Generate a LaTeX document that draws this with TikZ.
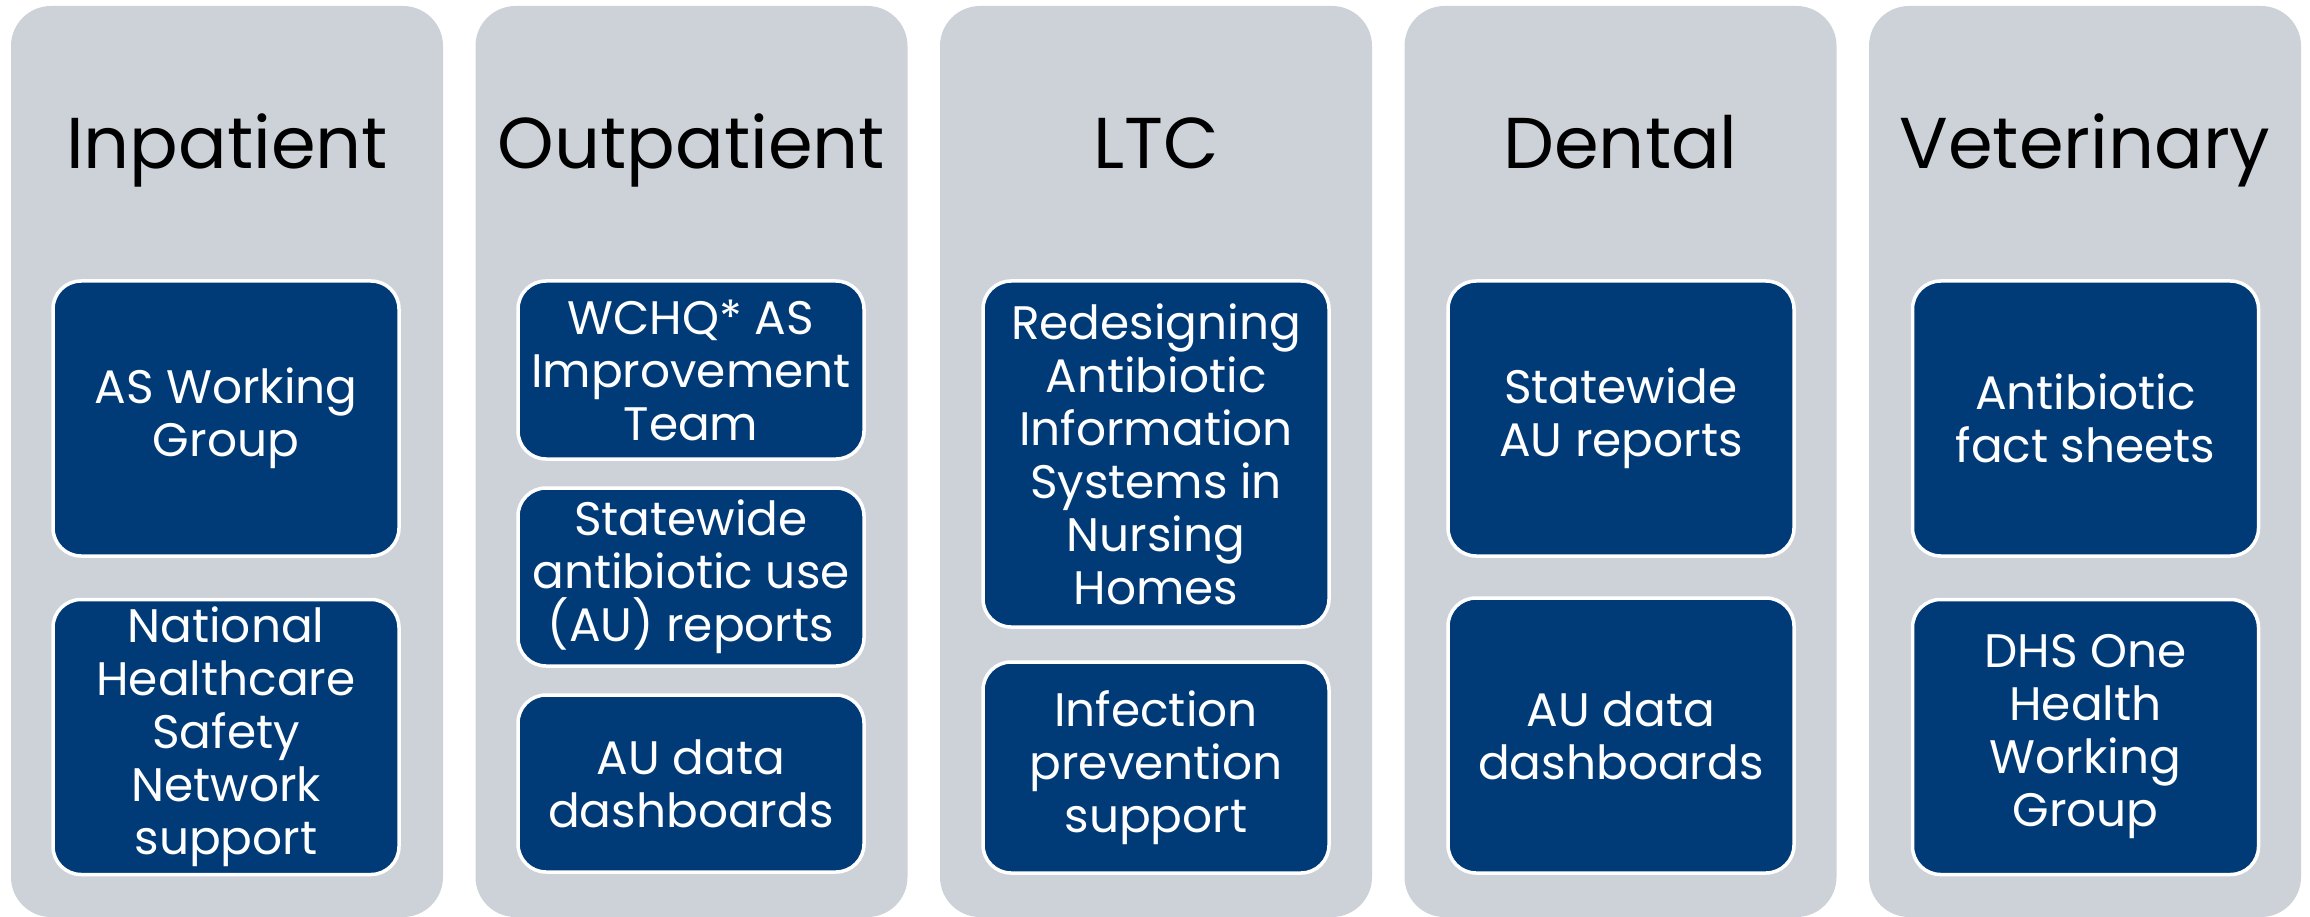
\documentclass[tikz,border=0pt]{standalone}
\usepackage{fontspec}
\setmainfont{Poppins}
\definecolor{panelgray}{RGB}{205,210,217}
\definecolor{boxblue}{RGB}{0,59,120}
\begin{document}
\begin{tikzpicture}[x=1pt,y=-1pt,
  panel/.style={fill=panelgray, draw=none, rounded corners=40pt, minimum width=432pt, minimum height=911pt, inner sep=0pt},
  item/.style={fill=boxblue, draw=white, line width=3.5pt, rounded corners=28pt, minimum width=346pt, inner sep=0pt, text=white, align=center, font=\fontsize{47}{53}\selectfont},
  head/.style={anchor=base, inner sep=0pt, text=black, font=\fontsize{72}{80}\selectfont}]
\useasboundingbox (0,0) rectangle (2310,917);
% panels
\node[panel] (p1) at (227,461.5) {};
\node[panel] (p2) at (691.5,461.5) {};
\node[panel] (p3) at (1156,461.5) {};
\node[panel] (p4) at (1620.5,461.5) {};
\node[panel] (p5) at (2085,461.5) {};
% headers
\node[head] (h1) at (227,169) {Inpatient};
\node[head] (h2) at (691.5,169) {Outpatient};
\node[head] (h3) at (1156,169) {LTC};
\node[head] (h4) at (1620.5,169) {Dental};
\node[head] (h5) at (2085,169) {Veterinary};
% column 1
\node[item, minimum height=275pt] (a1) at (226,418.5) {AS Working\\Group};
\node[item, minimum height=275pt] (a2) at (226,737) {National\\Healthcare\\Safety\\Network\\support};
% column 2
\node[item, minimum height=178pt] (b1) at (691,370) {WCHQ* AS\\Improvement\\Team};
\node[item, minimum height=178pt] (b2) at (691,577) {Statewide\\antibiotic use\\(AU) reports};
\node[item, minimum height=177pt] (b3) at (691,783.5) {AU data\\dashboards};
% column 3
\node[item, minimum height=346pt] (c1) at (1156,454) {Redesigning\\Antibiotic\\Information\\Systems in\\Nursing\\Homes};
\node[item, minimum height=211pt] (c2) at (1156,767.5) {Infection\\prevention\\support};
% column 4
\node[item, minimum height=275pt] (d1) at (1621,418.5) {Statewide\\AU reports};
\node[item, minimum height=275pt] (d2) at (1621,735.5) {AU data\\dashboards};
% column 5
\node[item, minimum height=275pt] (e1) at (2085.5,418.5) {Antibiotic\\fact sheets};
\node[item, minimum height=275pt] (e2) at (2085.5,737) {DHS One\\Health\\Working\\Group};
\end{tikzpicture}
\end{document}
